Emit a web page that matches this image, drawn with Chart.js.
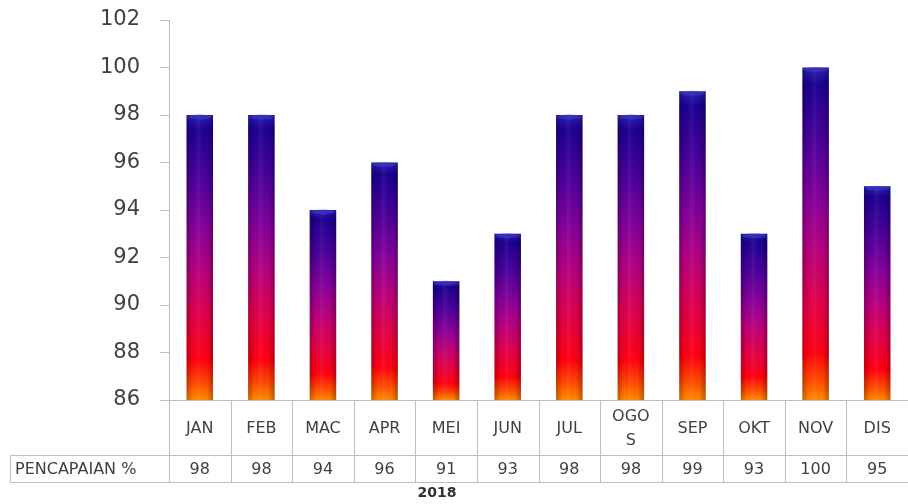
<!DOCTYPE html>
<html>
<head>
<meta charset="utf-8">
<script src="https://cdn.jsdelivr.net/npm/chart.js@4/dist/chart.umd.min.js"></script>
<style>
  html, body { margin: 0; padding: 0; background: #ffffff; }
  #wrap { width: 908px; height: 504px; position: relative; }
</style>
</head>
<body>
<div id="wrap"><canvas id="c" width="908" height="504"></canvas></div>
<script>
// ---- data ----
const categories = ['JAN', 'FEB', 'MAC', 'APR', 'MEI', 'JUN', 'JUL', 'OGOS', 'SEP', 'OKT', 'NOV', 'DIS'];
const headerLabels = [['JAN'], ['FEB'], ['MAC'], ['APR'], ['MEI'], ['JUN'], ['JUL'], ['OGO', 'S'], ['SEP'], ['OKT'], ['NOV'], ['DIS']];
const pencapaian = [98, 98, 94, 96, 91, 93, 98, 98, 99, 93, 100, 95];
const seriesLabel = 'PENCAPAIAN %';
const yearLabel = '2018';
const yMin = 86;
const yMax = 102;
const yStep = 2;

const FONT = '"DejaVu Sans", "Open Sans", sans-serif';
const TEXT = '#404040';
const LINE = '#bfbfbf';

function barGradient(ctx) {
  const chart = ctx.chart;
  if (!chart.chartArea || ctx.dataIndex === undefined) return '#7a00a0';
  const y = chart.scales.y;
  const v = pencapaian[ctx.dataIndex];
  const top = y.getPixelForValue(v);
  const bot = y.getPixelForValue(y.min);
  const g = chart.ctx.createLinearGradient(0, bot, 0, top);
  g.addColorStop(0.00, '#ff8a00');
  g.addColorStop(0.06, '#ff4a00');
  g.addColorStop(0.14, '#ff0010');
  g.addColorStop(0.30, '#e0004c');
  g.addColorStop(0.45, '#b8007e');
  g.addColorStop(0.60, '#86009a');
  g.addColorStop(0.78, '#4a009a');
  g.addColorStop(0.95, '#1c0090');
  g.addColorStop(1.00, '#2a20b0');
  return g;
}

const cylinderPlugin = {
  id: 'cylinder',
  afterDatasetsDraw(chart) {
    const c = chart.ctx;
    const meta = chart.getDatasetMeta(0);
    const bottom = chart.chartArea.bottom;
    meta.data.forEach((bar) => {
      const w = bar.width, left = bar.x - w / 2;
      const top = bar.y;
      const g = c.createLinearGradient(left, 0, left + w, 0);
      g.addColorStop(0, 'rgba(0,0,0,0.25)');
      g.addColorStop(0.25, 'rgba(0,0,0,0.0)');
      g.addColorStop(0.45, 'rgba(255,255,255,0.06)');
      g.addColorStop(0.75, 'rgba(0,0,0,0.0)');
      g.addColorStop(1, 'rgba(0,0,0,0.28)');
      c.save();
      c.fillStyle = g;
      c.fillRect(left, top, w, bottom - top);
      c.fillStyle = 'rgba(60,60,200,0.55)';
      c.beginPath();
      c.ellipse(bar.x, top + 2, w / 2 - 1, 2.5, 0, 0, Math.PI * 2);
      c.fill();
      c.restore();
    });
  }
};

const tablePlugin = {
  id: 'dataTable',
  afterDraw(chart) {
    const c = chart.ctx;
    const area = chart.chartArea;
    const x = chart.scales.x;
    const n = categories.length;
    const w = (area.right - area.left) / n;
    const hTop = area.bottom;
    const hBot = hTop + 55;
    const dBot = hBot + 27;
    const tableLeft = 10;
    c.save();
    c.strokeStyle = LINE;
    c.lineWidth = 1;
    c.beginPath();
    c.moveTo(area.left - 9, hTop + 0.5); c.lineTo(area.right, hTop + 0.5);
    c.moveTo(tableLeft, hBot + 0.5); c.lineTo(area.right, hBot + 0.5);
    c.moveTo(tableLeft, dBot + 0.5); c.lineTo(area.right, dBot + 0.5);
    c.moveTo(tableLeft + 0.5, hBot); c.lineTo(tableLeft + 0.5, dBot);
    for (let i = 0; i < n; i++) {
      const bx = Math.round(x.getPixelForValue(i) - w / 2) + 0.5;
      c.moveTo(bx, hTop); c.lineTo(bx, dBot);
    }
    c.stroke();

    c.fillStyle = TEXT;
    c.textAlign = 'center';
    c.textBaseline = 'middle';
    c.font = '16px ' + FONT;
    for (let i = 0; i < n; i++) {
      const cx = x.getPixelForValue(i);
      const lines = headerLabels[i];
      const mid = (hTop + hBot) / 2 + 1;
      if (lines.length === 1) {
        c.fillText(lines[0], cx, mid);
      } else {
        c.fillText(lines[0], cx, mid - 12);
        c.fillText(lines[1], cx, mid + 12);
      }
      c.fillText(String(pencapaian[i]), cx, (hBot + dBot) / 2 + 1);
    }
    c.textAlign = 'left';
    c.fillText(seriesLabel, tableLeft + 5, (hBot + dBot) / 2 + 1);
    c.textAlign = 'center';
    c.font = 'bold 14px ' + FONT;
    c.fillStyle = '#303030';
    c.fillText(yearLabel, 437, dBot + 11);
    c.restore();
  }
};

new Chart(document.getElementById('c'), {
  type: 'bar',
  data: {
    labels: categories,
    datasets: [{
      label: seriesLabel,
      data: pencapaian,
      backgroundColor: barGradient,
      borderWidth: 0,
      barPercentage: 0.43,
      categoryPercentage: 1.0
    }]
  },
  options: {
    responsive: false,
    animation: false,
    devicePixelRatio: 1,
    layout: { padding: { top: 20, right: 0, bottom: 104, left: 0 } },
    plugins: {
      legend: { display: false },
      tooltip: { enabled: false },
      title: { display: false }
    },
    scales: {
      x: {
        display: false,
        offset: true,
        grid: { display: false }
      },
      y: {
        min: yMin,
        max: yMax,
        afterFit(scale) {
          scale.width = 169;
          scale.paddingTop = 0;
          scale.paddingBottom = 0;
        },
        ticks: {
          stepSize: yStep,
          color: TEXT,
          font: { family: FONT, size: 21 },
          padding: 20
        },
        grid: {
          drawOnChartArea: false,
          drawTicks: true,
          tickLength: 9,
          color: LINE
        },
        border: { display: true, color: LINE, width: 1 }
      }
    }
  },
  plugins: [cylinderPlugin, tablePlugin]
});
</script>
</body>
</html>
